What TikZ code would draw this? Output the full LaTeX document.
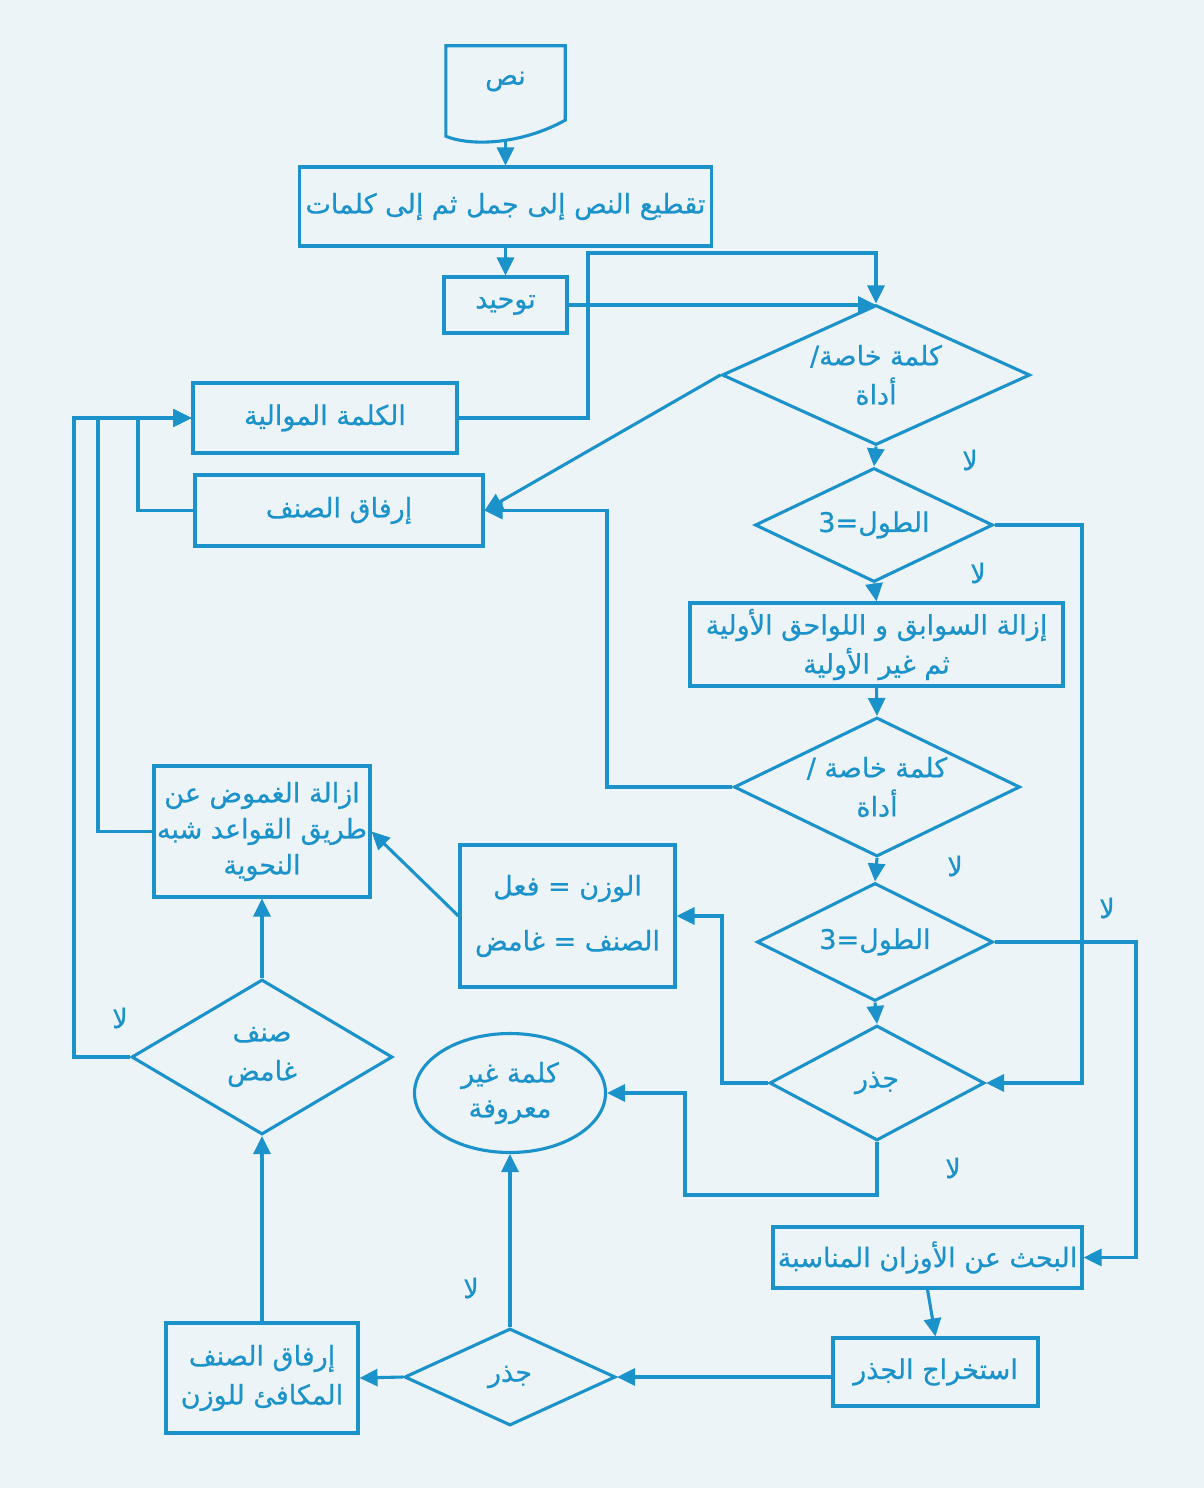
\documentclass[tikz,border=0pt]{standalone}
\usepackage{fontspec}
\usetikzlibrary{shapes.geometric,arrows.meta,calc}
\newfontfamily\arabicfont[Script=Arabic,FakeBold=0.6]{DejaVu Sans}
\TeXXeTstate=1
\newcommand\artext[1]{\beginR#1\endR}
\definecolor{flowblue}{RGB}{28,146,202}
\definecolor{paper}{RGB}{236,244,248}

\begin{document}
\begin{tikzpicture}[x=1pt,y=-1pt,
  every node/.style={text=flowblue, font=\arabicfont\fontsize{27}{39}\selectfont},
  box/.style={draw=flowblue, line width=3.1pt, rectangle, inner sep=0pt, align=center},
  decision/.style={draw=flowblue, line width=3.1pt, diamond, inner sep=0pt},
  dtext/.style={align=center, inner sep=0pt},
  conn/.style={draw=flowblue, line width=3.1pt},
  arr/.style={conn, -{Triangle[length=18pt,width=17pt]}},
  lbl/.style={inner sep=0pt}
]
% page
\fill[paper] (0,0) rectangle (1204,1488);
\useasboundingbox (0,0) rectangle (1204,1488);

% ---------- nodes ----------
\node[inner sep=0pt, minimum width=119pt, minimum height=95pt,
      label={[yshift=12pt]center:\artext{نص}}] (nass) at (505.5,93.5) {};
\draw[conn] (nass.north west) -- (nass.north east) -- ($(nass.south east)+(0,-21)$)
  .. controls ($(nass.south west)+(74,4)$) and ($(nass.south west)+(24,5)$) ..
  ($(nass.south west)+(0,-5)$) -- cycle;

\node[box, minimum width=412pt, minimum height=79pt] (taqti) at (505.5,206.5)
  {\artext{تقطيع النص إلى جمل ثم إلى كلمات}};
\node[box, minimum width=123pt, minimum height=56pt] (tawhid) at (505.5,305)
  {\artext{توحيد}};
\node[box, minimum width=264pt, minimum height=70pt] (kalima) at (325,418)
  {\artext{الكلمة الموالية}};
\node[box, minimum width=288pt, minimum height=71pt] (irfaqA) at (339,510.5)
  {\artext{إرفاق الصنف}};

\node[decision, minimum width=308pt, minimum height=140pt] (dA) at (876,375) {};
\node[dtext] (tA) at (dA) {\artext{كلمة خاصة/}\\\artext{أداة}};
\node[decision, minimum width=238pt, minimum height=114pt] (dB) at (874,525) {};
\node[dtext] (tB) at (dB) {\artext{الطول=3}};
\node[box, minimum width=373pt, minimum height=83pt] (izala) at (876.5,644.5)
  {\artext{إزالة السوابق و اللواحق الأولية}\\\artext{ثم غير الأولية}};
\node[decision, minimum width=286pt, minimum height=139pt] (dC) at (877,787) {};
\node[dtext] (tC) at (dC) {\artext{كلمة خاصة /}\\\artext{أداة}};
\node[decision, minimum width=236pt, minimum height=118pt] (dD) at (875,942) {};
\node[dtext] (tD) at (dD) {\artext{الطول=3}};
\node[decision, minimum width=215pt, minimum height=115pt] (dE) at (877,1083) {};
\node[dtext] (tE) at (dE) {\artext{جذر}};

\node[box, minimum width=215pt, minimum height=142pt] (wazn) at (567.5,916)
  {\artext{الوزن = فعل}\\[16pt]\artext{الصنف = غامض}};
\node[box, minimum width=216pt, minimum height=131pt] (ghumud) at (262,831.5)
  {\artext{ازالة الغموض عن}\\[-3pt]\artext{طريق القواعد شبه}\\[-3pt]\artext{النحوية}};
\node[decision, minimum width=261pt, minimum height=155pt] (dF) at (262,1057) {};
\node[dtext] (tF) at (dF) {\artext{صنف}\\\artext{غامض}};
\node[draw=flowblue, line width=3.1pt, ellipse, inner sep=0pt, align=center,
      minimum width=191pt, minimum height=119pt] (ell) at (510,1093)
  {\artext{كلمة غير}\\[-4pt]\artext{معروفة}};

\node[box, minimum width=309pt, minimum height=61pt] (bahth) at (927.5,1257.5)
  {\artext{البحث عن الأوزان المناسبة}};
\node[box, minimum width=205pt, minimum height=68pt] (istikhraj) at (935.5,1372)
  {\artext{استخراج الجذر}};
\node[decision, minimum width=211pt, minimum height=97pt] (dG) at (510,1377) {};
\node[dtext] (tG) at (dG) {\artext{جذر}};
\node[box, minimum width=192pt, minimum height=110pt] (irfaqB) at (262,1378)
  {\artext{إرفاق الصنف}\\\artext{المكافئ للوزن}};

% bend points of the routed connectors
\coordinate (jA) at (588,253);
\coordinate (jB) at (1082,700);
\coordinate (jC) at (607,600);
\coordinate (jD) at (1136,1100);
\coordinate (jE) at (722,1000);
\coordinate (jF) at (685,1195);
\coordinate (jG) at (98,600);
\coordinate (jH) at (138,470);
\coordinate (jI) at (74,700);

% ---------- connectors ----------
\draw[arr] (nass.south) -- (taqti.north);
\draw[arr] (taqti.south) -- (tawhid.north);
\draw[arr] (tawhid.east) -- (tawhid.east -| dA.north);
\draw[arr] (kalima.east) -| (jA) -| (dA.north);
\draw[arr] (dA.west) -- (irfaqA.east);
\draw[arr] (dA.south) -- (dB.north);
\draw[arr] (dB.south) -- (izala.north);
\draw[arr] (dB.east) -| (jB) |- (dE.east);
\draw[arr] (izala.south) -- (dC.north);
\draw[arr] (dC.west) -| (jC) |- (irfaqA.east);
\draw[arr] (dC.south) -- (dD.north);
\draw[arr] (dD.south) -- (dE.north);
\draw[arr] (dD.east) -| (jD) |- (bahth.east);
\draw[arr] (dE.west) -| (jE) |- (wazn.east);
\draw[arr] (dE.south) |- (jF) |- (ell.east);
\draw[arr] (wazn.west) -- (ghumud.east);
\draw[arr] (ghumud.west) -| (jG) |- (kalima.west);
\draw[arr] (irfaqA.west) -| (jH) |- (kalima.west);
\draw[arr] (dF.west) -| (jI) |- (kalima.west);
\draw[arr] (dF.north) -- (ghumud.south);
\draw[arr] (irfaqB.north) -- (dF.south);
\draw[arr] (bahth.south) -- (istikhraj.north);
\draw[arr] (istikhraj.west |- dG.east) -- (dG.east);
\draw[arr] (dG.west) -- (irfaqB.east);
\draw[arr] (dG.north) -- (ell.south);

% ---------- branch labels ----------
\node[lbl] (nA) at (970,460) {\artext{لا}};
\node[lbl] (nB) at (978,573) {\artext{لا}};
\node[lbl] (nC) at (955,866) {\artext{لا}};
\node[lbl] (nD) at (1107,908) {\artext{لا}};
\node[lbl] (nE) at (953,1168) {\artext{لا}};
\node[lbl] (nF) at (471,1288) {\artext{لا}};
\node[lbl] (nG) at (120,1018) {\artext{لا}};
\end{tikzpicture}
\end{document}
